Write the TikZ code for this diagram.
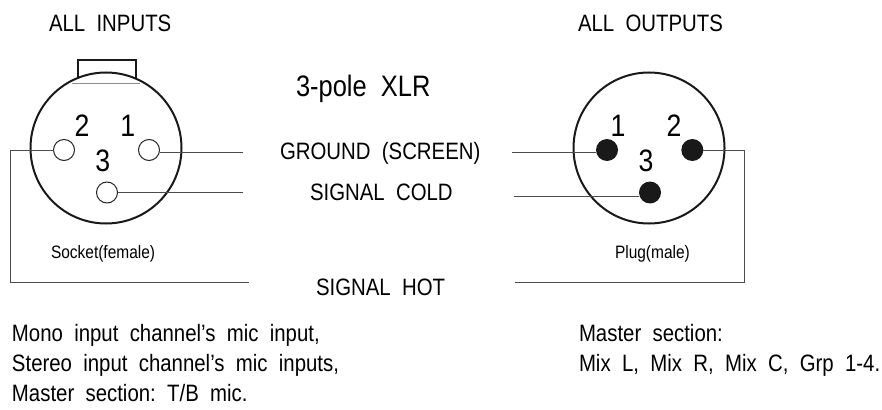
\documentclass[tikz,border=0pt]{standalone}
\usepackage{fontspec}
\setmainfont[FakeStretch=0.86]{Liberation Sans}
\begin{document}
\begin{tikzpicture}[x=1pt,y=-1pt,
  every node/.style={inner sep=0pt,outer sep=0pt,text=black},
  lab/.style={anchor=base west,font=\fontsize{23.7}{28}\selectfont},
  small/.style={anchor=base west,font=\fontsize{18}{22}\selectfont},
  num/.style={anchor=base,font=\fontsize{31}{36}\selectfont},
  shell/.style={circle,draw=black!90,line width=2pt,minimum size=151pt},
  fpin/.style={circle,draw=black!85,line width=1pt,fill=white,minimum size=21pt},
  mpin/.style={circle,fill=black!90,minimum size=22pt},
  wire/.style={draw=black!70,line width=1pt}]
\useasboundingbox (0,0) rectangle (882,409);
% coordinates for wire ends
\coordinate (w1l) at (243,152); \coordinate (w3l) at (243,192.5);
\coordinate (w2a) at (10,150); \coordinate (w2b) at (10,282); \coordinate (w2c) at (249,282);
\coordinate (w1r) at (512,152); \coordinate (w3r) at (514,196);
\coordinate (r2a) at (744,150); \coordinate (r2b) at (744,282); \coordinate (r2c) at (515,282);
\coordinate (t1) at (78,79); \coordinate (t2) at (78,60); \coordinate (t3) at (136,60); \coordinate (t4) at (136,79);
\coordinate (c1) at (72,83.5); \coordinate (c2) at (140,83.5);
% shells
\node[shell] (sock) at (106,148) {};
\node[shell] (plug) at (649,148) {};
% pins
\node[fpin] (f2) at (64,150) {};
\node[fpin] (f1) at (149,150) {};
\node[fpin] (f3) at (107,192.5) {};
\node[mpin] (m1) at (607,150) {};
\node[mpin] (m2) at (692.3,150) {};
\node[mpin] (m3) at (650,192.5) {};
% wires
\draw[wire] (f1.east |- w1l) -- (w1l);
\draw[wire] (f3) -- (w3l);
\draw[wire] (f2) -- (w2a) -- (w2b) -- (w2c);
\draw[wire] (m1.west |- w1r) -- (w1r);
\draw[wire] (m3.west |- w3r) -- (w3r);
\draw[wire] (m2) -- (r2a) -- (r2b) -- (r2c);
% tab
\draw[black!90,line width=2pt] (t1) -- (t2) -- (t3) -- (t4);
\draw[black!45,line width=0.8pt] (c1) -- (c2);
% pin numbers
\node[num] (n2l) at (82,136) {2};
\node[num] (n1l) at (127.7,136) {1};
\node[num] (n3l) at (102.7,171.5) {3};
\node[num] (n1r) at (618,136) {1};
\node[num] (n2r) at (674,136) {2};
\node[num] (n3r) at (646,171.5) {3};
% labels
\node[lab] (ai) at (49,32) {ALL\ \ INPUTS};
\node[lab] (ao) at (578,32) {ALL\ \ OUTPUTS};
\node[anchor=base west,font=\fontsize{29.6}{34}\selectfont] (xlr) at (296,97) {3-pole\ \ XLR};
\node[lab] (gnd) at (280,159) {GROUND\ \ (SCREEN)};
\node[lab] (cold) at (310,200) {SIGNAL\ \ COLD};
\node[lab] (hot) at (316,295) {SIGNAL\ \ HOT};
\node[small] (so) at (51,258) {Socket(female)};
\node[small] (pl) at (615,258) {Plug(male)};
\node[lab] (a1) at (12,341) {Mono\ \ input\ \ channel's\ \ mic\ \ input,};
\node[lab] (a2) at (12,371) {Stereo\ \ input\ \ channel's\ \ mic\ \ inputs,};
\node[lab] (a3) at (12,401) {Master\ \ section:\ \ T/B\ \ mic.};
\node[lab] (b1) at (579,341) {Master\ \ section:};
\node[lab] (b2) at (579,371) {Mix\ \ L,\ \ Mix\ \ R,\ \ Mix\ \ C,\ \ Grp\ \ 1-4.};
\end{tikzpicture}
\end{document}
